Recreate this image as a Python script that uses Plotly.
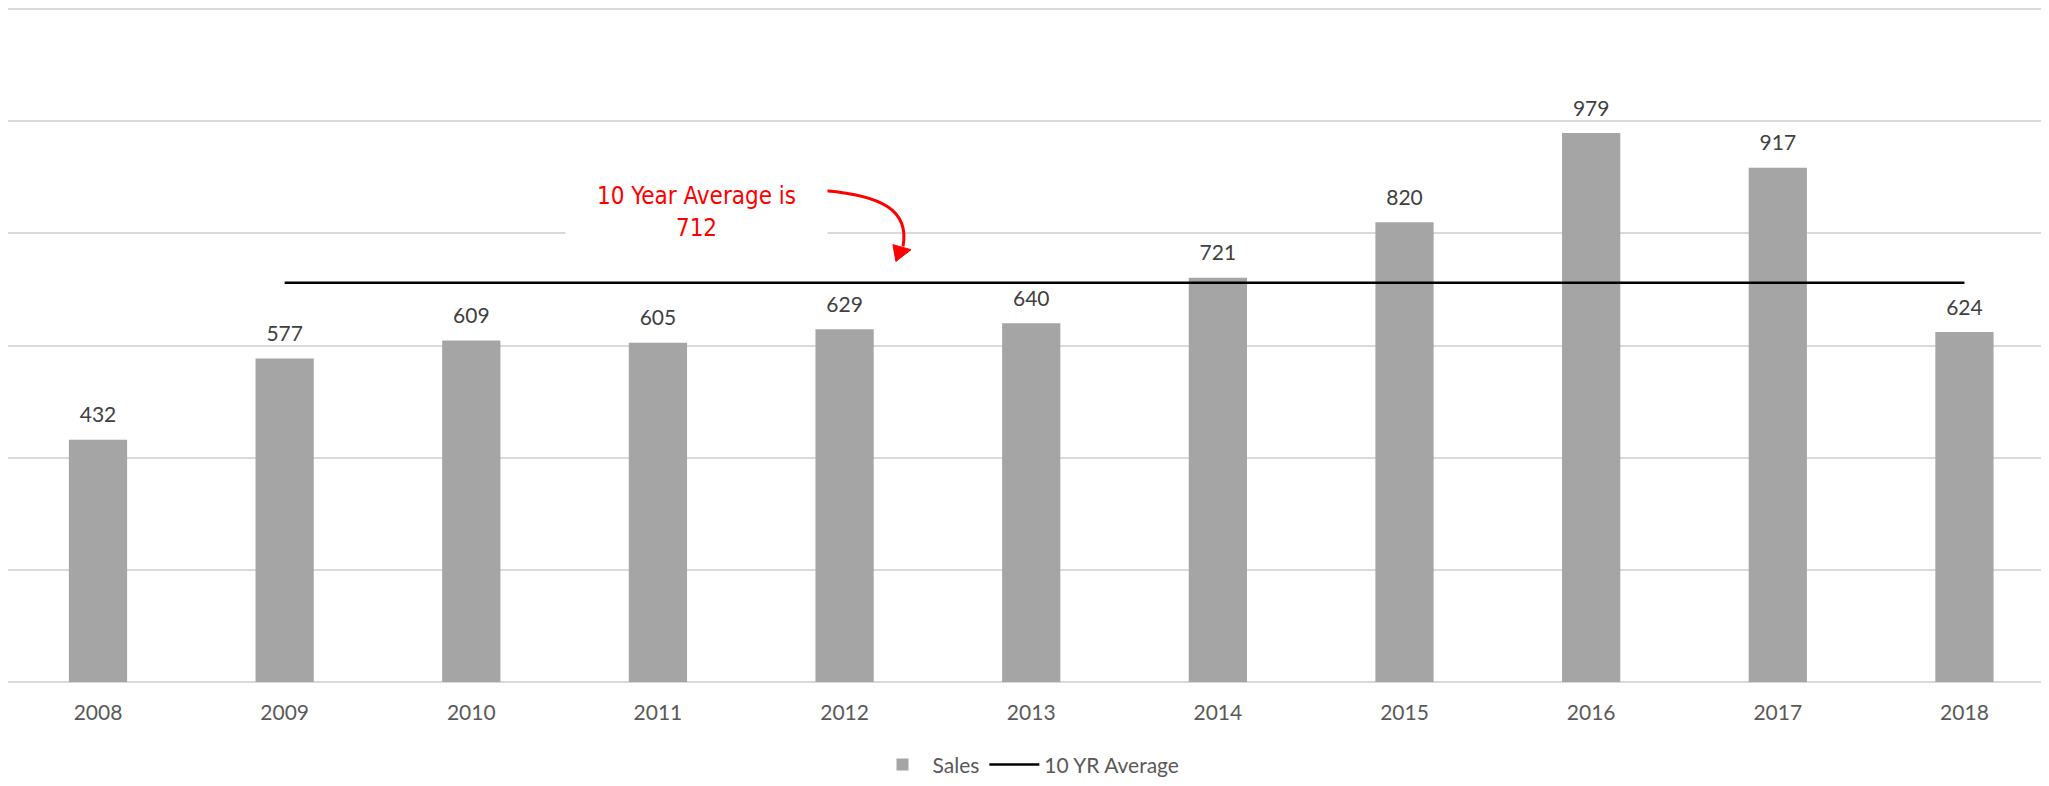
import plotly.graph_objects as go

years = ["2008", "2009", "2010", "2011", "2012", "2013", "2014", "2015", "2016", "2017", "2018"]
sales = [432, 577, 609, 605, 629, 640, 721, 820, 979, 917, 624]
avg_years = years[1:]
avg_values = [712] * 10
note_text = "10 Year Average is<br>712"

label_color = "#595959"
value_color = "#404040"
base_font = "Lato, Open Sans, sans-serif"

fig = go.Figure()
fig.add_trace(go.Bar(
    x=years, y=sales, name="Sales",
    marker=dict(color="#A5A5A5", line=dict(width=0)),
    hoverinfo="skip",
))
fig.add_trace(go.Scatter(
    x=years, y=sales, mode="markers+text", text=[str(v) for v in sales],
    textposition="top center", textfont=dict(size=21, color=value_color, family=base_font),
    marker=dict(size=18, color="rgba(0,0,0,0)"), showlegend=False, hoverinfo="skip",
))
fig.add_trace(go.Scatter(
    x=avg_years, y=avg_values, mode="lines", name="10 YR Average",
    line=dict(color="black", width=2.5), hoverinfo="skip",
))

# annotation text with white box
fig.add_annotation(
    x=3.204, y=839, xref="x", yref="y", text=note_text, showarrow=False,
    font=dict(family="DejaVu Sans Condensed, Liberation Sans Narrow, sans-serif", size=24, color="#FF0000"),
    bgcolor="white", width=259, height=76, align="center",
)
# curved arrow
fig.add_shape(
    type="path", xref="x", yref="y",
    path="M 3.900,876 C 4.190,867.5 4.350,842.5 4.313,776.5",
    line=dict(color="#FF0000", width=3),
)
fig.add_shape(
    type="path", xref="x", yref="y",
    path="M 4.259,780 L 4.356,771 L 4.275,750 Z",
    fillcolor="#FF0000", line=dict(color="#FF0000", width=1),
)

fig.update_layout(
    width=2041, height=778,
    margin=dict(l=0, r=0, t=0, b=104, autoexpand=False),
    plot_bgcolor="white", paper_bgcolor="white",
    bargap=0.688,
    font=dict(family=base_font, size=21, color=label_color),
    showlegend=True,
    legend=dict(orientation="h", x=0.5, xanchor="center", y=-0.123, yanchor="middle",
                itemwidth=50, font=dict(size=21, color=label_color)),
    xaxis=dict(type="category", range=[-0.4822, 10.453], showgrid=False, showline=False, ticks="outside",
               ticklen=12, tickcolor="rgba(0,0,0,0)", tickfont=dict(size=21, color=label_color)),
    yaxis=dict(range=[0, 1202], dtick=200, showgrid=True, gridcolor="#D9D9D9", gridwidth=1.5,
               zeroline=True, zerolinecolor="#D9D9D9", zerolinewidth=1.5,
               showticklabels=False, showline=False),
)

fig.write_html("out.html")
